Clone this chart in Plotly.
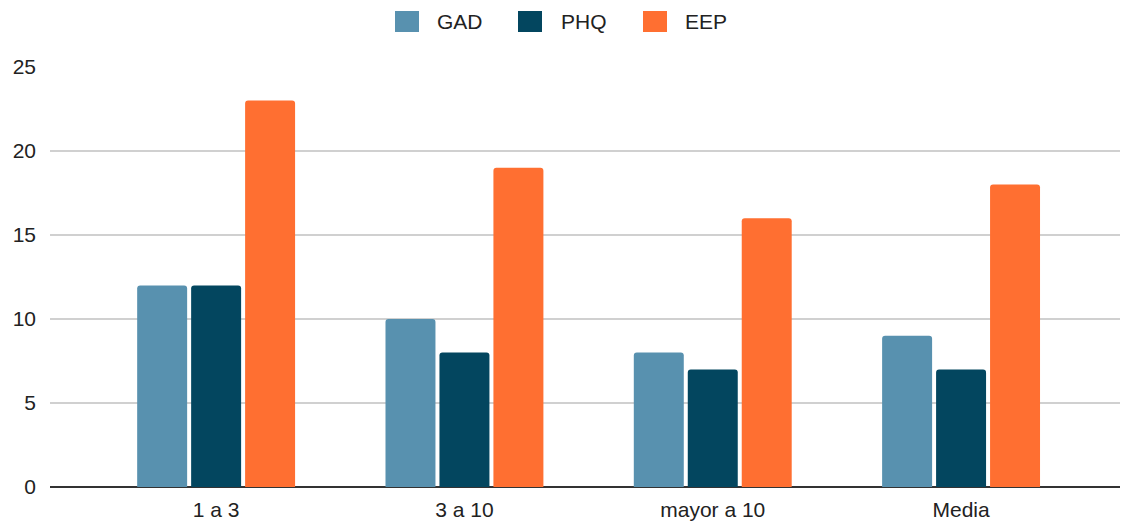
import plotly.graph_objects as go

categories = ["1 a 3", "3 a 10", "mayor a 10", "Media"]
gad = [12, 10, 8, 9]
phq = [12, 8, 7, 7]
eep = [23, 19, 16, 18]

series_names = ["GAD", "PHQ", "EEP"]
series_colors = ["#5891AF", "#03465F", "#FF6F31"]

W, H = 1122, 522
L, R, T, B = 50, 2, 67, 35

fig = go.Figure()
for name, vals, col in zip(series_names, [gad, phq, eep], series_colors):
    fig.add_trace(go.Bar(
        name=name, x=categories, y=vals,
        marker=dict(color=col, line=dict(width=0)),
        showlegend=False,
        hovertemplate="%{x}<br>" + name + ": %{y}<extra></extra>",
    ))

# Custom legend row above the plot
pw, ph = W - L - R, H - T - B
def px_x(px):
    return (px - L) / pw
def px_y(py):
    return (H - B - py) / ph

legend_items = [(395, 436), (518, 560), (643, 684)]
for (sx, tx), name, col in zip(legend_items, series_names, series_colors):
    fig.add_shape(type="rect", xref="paper", yref="paper",
                  x0=px_x(sx), x1=px_x(sx + 24), y0=px_y(32), y1=px_y(11),
                  fillcolor=col, line=dict(width=0))
    fig.add_annotation(xref="paper", yref="paper", x=px_x(tx - 1), y=px_y(22),
                       text=name, showarrow=False, xanchor="left", yanchor="middle",
                       font=dict(family="Liberation Sans, Arial", size=21, color="#222222"))

fig.update_layout(
    width=W, height=H,
    margin=dict(l=L, r=R, t=T, b=B),
    paper_bgcolor="white", plot_bgcolor="white",
    barmode="group", bargap=0.348, bargroupgap=0.074,
    barcornerradius=3,
    font=dict(family="Liberation Sans, Arial", size=20, color="#222222"),
    xaxis=dict(range=[-0.669, 3.64], showgrid=False, ticks="", showline=False,
               ticklabelstandoff=8,
               tickfont=dict(size=21, color="#222222")),
    yaxis=dict(range=[0, 25], dtick=5, showgrid=True, gridcolor="#D0D0D0", gridwidth=1.5,
               zeroline=True, zerolinecolor="#333333", zerolinewidth=1.5,
               ticks="", showline=False, ticklabelstandoff=13,
               tickfont=dict(size=21, color="#222222")),
)

fig.write_html("out.html")
